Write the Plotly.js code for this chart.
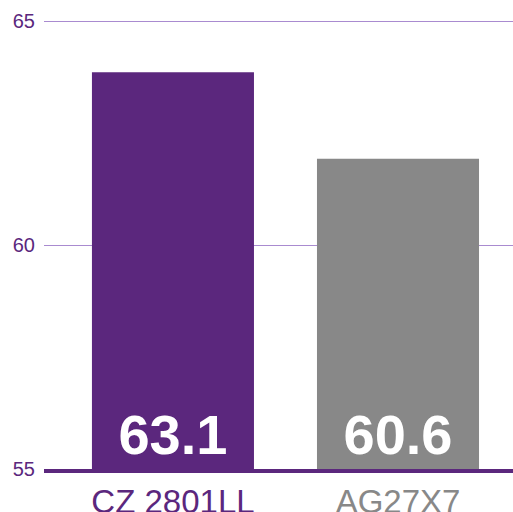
<!DOCTYPE html>
<html><head><meta charset="utf-8">
<script src="https://cdn.plot.ly/plotly-3.0.1.min.js"></script>
<style>html,body{margin:0;padding:0;background:#fff}#c{width:513px;height:512px}</style>
</head><body><div id="c"></div>
<script>
const categories = ["CZ 2801LL", "AG27X7"];
const barValues = [63.86, 61.93];
const valueLabels = ["63.1", "60.6"];
const barColors = ["#5b277d", "#888888"];
const labelColors = ["#5b277d", "#888888"];
const yTicks = [55, 60, 65];

const trace = {
  type: "bar",
  x: categories,
  y: barValues.map(v => v - 55),
  base: 55,
  width: 0.72,
  marker: {color: barColors},
  text: valueLabels,
  textposition: "inside",
  insidetextanchor: "start",
  textangle: 0,
  textfont: {family: "Liberation Sans, Arial, sans-serif", size: 56, color: "#ffffff", weight: "bold"},
  constraintext: "none",
  hoverinfo: "none"
};

const layout = {
  width: 513, height: 512,
  margin: {l: 44, r: 0, t: 19, b: 43},
  paper_bgcolor: "#ffffff", plot_bgcolor: "#ffffff",
  showlegend: false,
  xaxis: {
    type: "category",
    range: [-0.573, 1.511],
    tickvals: categories,
    ticktext: categories.map((c, i) => `<span style="color:${labelColors[i]}">${c}</span>`),
    tickfont: {family: "Liberation Sans, Arial, sans-serif", size: 33},
    ticks: "", showgrid: false,
    showline: true, linecolor: "#5b277d", linewidth: 4,
    ticklabelstandoff: 0,
    fixedrange: true
  },
  yaxis: {
    range: [55, 65.05],
    tickvals: yTicks,
    ticktext: yTicks.map(String),
    tickfont: {family: "Liberation Sans, Arial, sans-serif", size: 20, color: "#5b277d"},
    ticks: "", showgrid: true, gridcolor: "#a98bd0", gridwidth: 1,
    zeroline: false, showline: false,
    ticklabelstandoff: 8,
    fixedrange: true
  }
};

Plotly.newPlot("c", [trace], layout, {displayModeBar: false, staticPlot: true});
</script></body></html>
